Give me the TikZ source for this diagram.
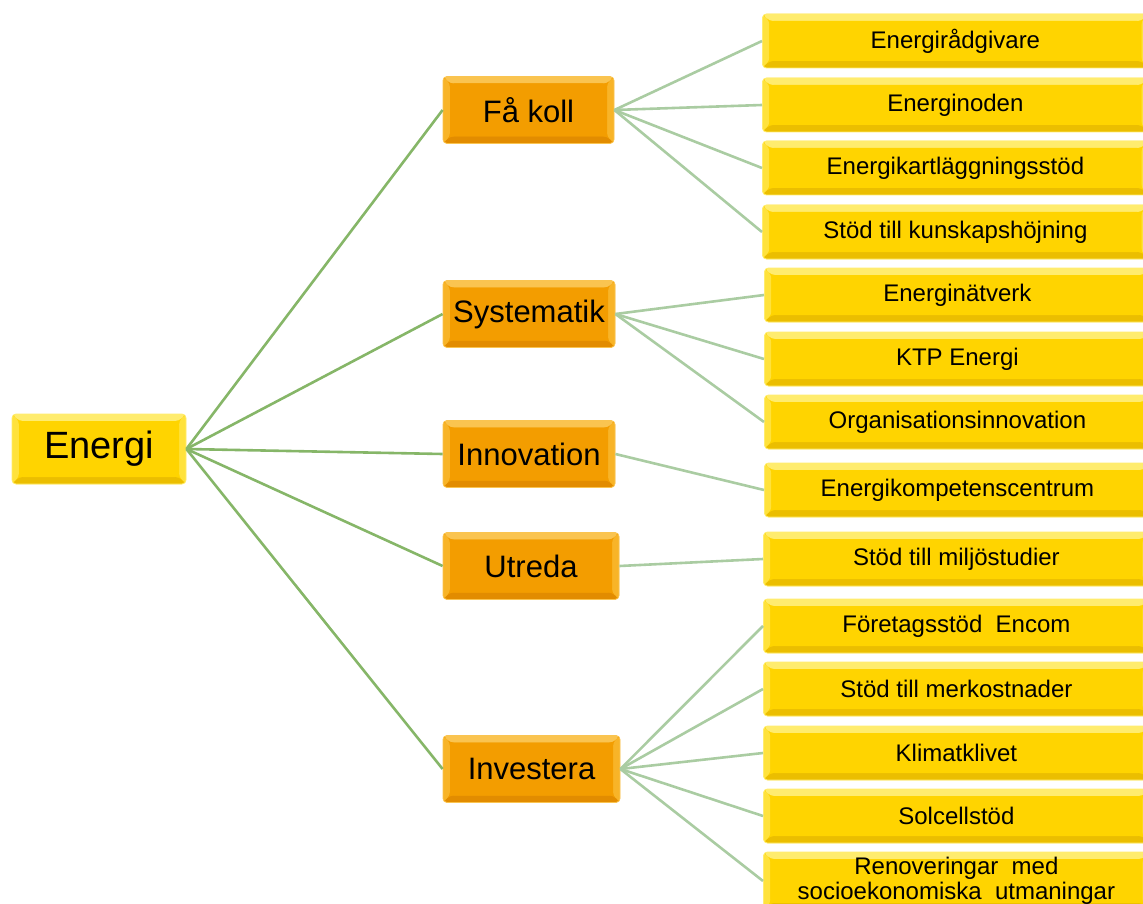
\documentclass[tikz,border=0pt]{standalone}
\usepackage{fontspec}
\setmainfont{Liberation Sans}
\usetikzlibrary{calc}
\definecolor{goldmain}{RGB}{255,212,0}
\definecolor{goldtop}{RGB}{255,236,110}
\definecolor{goldside}{RGB}{255,226,60}
\definecolor{goldbot}{RGB}{235,190,0}
\definecolor{orgmain}{RGB}{243,157,0}
\definecolor{orgtop}{RGB}{250,196,80}
\definecolor{orgside}{RGB}{248,180,40}
\definecolor{orgbot}{RGB}{226,140,0}
\definecolor{edgedark}{RGB}{134,182,104}
\definecolor{edgelight}{RGB}{170,204,162}
\tikzset{
  bevel/.style n args={4}{rectangle, rounded corners=4pt, inner sep=0pt, align=center,
    fill=#1, draw=#2, line width=0.8pt,
    path picture={
      \def\d{7pt}
      \coordinate (pnw) at (path picture bounding box.north west);
      \coordinate (pne) at (path picture bounding box.north east);
      \coordinate (psw) at (path picture bounding box.south west);
      \coordinate (pse) at (path picture bounding box.south east);
      \fill[#2] (pnw) -- (pne) -- ($(pne)+(-\d,-\d)$) -- ($(pnw)+(\d,-\d)$) -- cycle;
      \fill[#3] (pnw) -- (psw) -- ($(psw)+(\d,\d)$) -- ($(pnw)+(\d,-\d)$) -- cycle;
      \fill[#3] (pne) -- (pse) -- ($(pse)+(-\d,\d)$) -- ($(pne)+(-\d,-\d)$) -- cycle;
      \fill[#4] (psw) -- (pse) -- ($(pse)+(-\d,\d)$) -- ($(psw)+(\d,\d)$) -- cycle;
      \fill[#1] ($(pnw)+(\d,-\d)$) rectangle ($(pse)+(-\d,\d)$);
    }},
  rootbox/.style={bevel={goldmain}{goldtop}{goldside}{goldbot},
    minimum width=174pt, minimum height=70pt, font=\fontsize{38}{42}\selectfont},
  midbox/.style={bevel={orgmain}{orgtop}{orgside}{orgbot},
    minimum height=67pt, font=\fontsize{31}{35}\selectfont},
  leafbox/.style={bevel={goldmain}{goldtop}{goldside}{goldbot},
    minimum width=386pt, minimum height=54pt, anchor=west,
    font=\fontsize{24}{26}\selectfont},
  rootedge/.style={draw=edgedark, line width=2.6pt},
  leafedge/.style={draw=edgelight, line width=2.6pt},
}
\begin{document}
\begin{tikzpicture}[x=1pt,y=-1pt]
\useasboundingbox (0,0) rectangle (1143,904);
\clip (0,0) rectangle (1143,904);
% root
\node[rootbox] (energi) at (99,449) {Energi};
% middle level
\node[midbox, minimum width=171pt] (fakoll) at (528.5,110) {Få koll};
\node[midbox, minimum width=172pt] (syst) at (529,314) {Systematik};
\node[midbox, minimum width=172pt] (innov) at (529,454) {Innovation};
\node[midbox, minimum width=176pt] (utreda) at (531,566) {Utreda};
\node[midbox, minimum width=177pt] (invest) at (531.5,769) {Investera};
% leaves
\node[leafbox] (l1) at (762,41) {Energirådgivare};
\node[leafbox] (l2) at (762,105) {Energinoden};
\node[leafbox] (l3) at (762,168) {Energikartläggningsstöd};
\node[leafbox] (l4) at (762,232) {Stöd till kunskapshöjning};
\node[leafbox] (l5) at (764,295) {Energinätverk};
\node[leafbox] (l6) at (764,359) {KTP Energi};
\node[leafbox] (l7) at (764,422) {Organisationsinnovation};
\node[leafbox] (l8) at (764,490) {Energikompetenscentrum};
\node[leafbox] (l9) at (763,559) {Stöd till miljöstudier};
\node[leafbox] (l10) at (763,626) {Företagsstöd\ \ Encom};
\node[leafbox] (l11) at (763,689) {Stöd till merkostnader};
\node[leafbox] (l12) at (763,753) {Klimatklivet};
\node[leafbox] (l13) at (763,816) {Solcellstöd};
\node[leafbox, minimum height=58pt, font=\fontsize{24}{24.5}\selectfont] (l14) at (763,881) {Renoveringar\ \ med\\socioekonomiska\ \ utmaningar};
% edges from root
\foreach \m in {fakoll,syst,innov,utreda,invest}
  \draw[rootedge] (energi.east) -- (\m.west);
% edges to leaves
\foreach \l in {l1,l2,l3,l4} \draw[leafedge] (fakoll.east) -- (\l.west);
\foreach \l in {l5,l6,l7} \draw[leafedge] (syst.east) -- (\l.west);
\draw[leafedge] (innov.east) -- (l8.west);
\draw[leafedge] (utreda.east) -- (l9.west);
\foreach \l in {l10,l11,l12,l13,l14} \draw[leafedge] (invest.east) -- (\l.west);
\end{tikzpicture}
\end{document}
